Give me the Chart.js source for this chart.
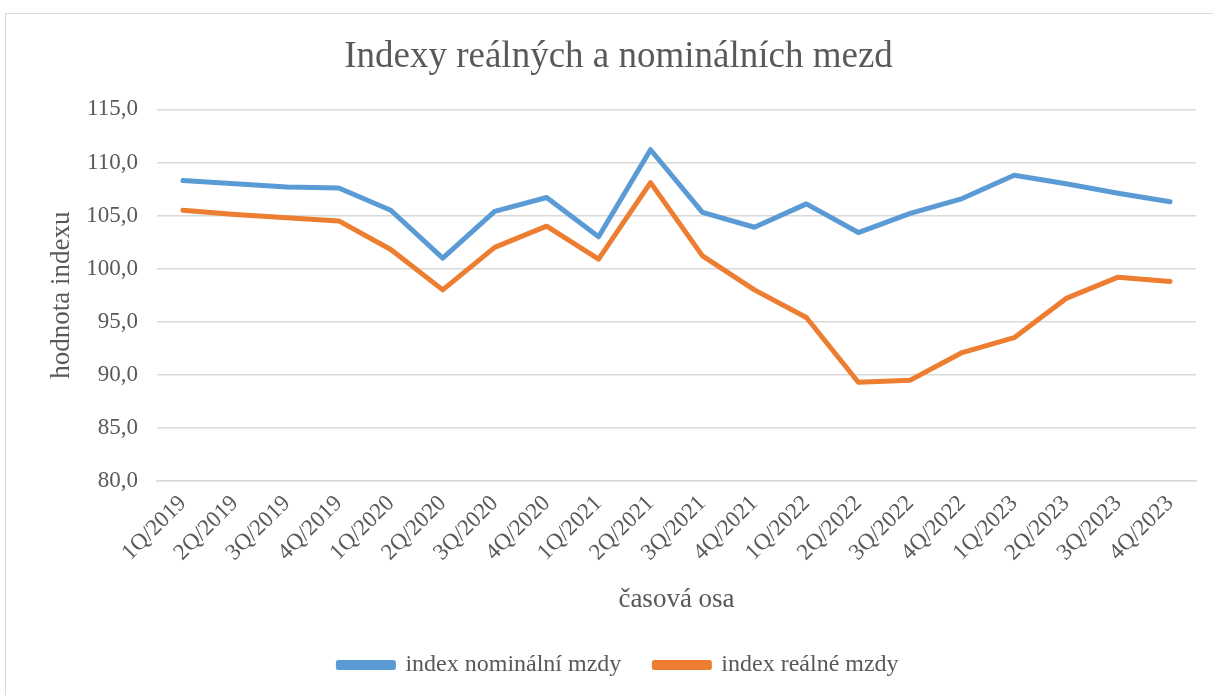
<!DOCTYPE html>
<html lang="cs">
<head>
<meta charset="utf-8">
<title>Indexy reálných a nominálních mezd</title>
<script src="https://cdn.jsdelivr.net/npm/chart.js@4.4.1/dist/chart.umd.min.js"></script>
<style>
  html, body { margin: 0; padding: 0; background: #fff; overflow: hidden; }
  .frame {
    position: absolute; left: 5px; top: 13px;
    width: 1400px; height: 1000px;
    border: 1px solid #d9d9d9;
  }
  #wrap { position: absolute; left: 0; top: 0; width: 1213px; height: 695px; }
</style>
</head>
<body>
<div class="frame"></div>
<div id="wrap"><canvas id="mzdy" width="1213" height="695"></canvas></div>
<script>
const quarters = [
  '1Q/2019', '2Q/2019', '3Q/2019', '4Q/2019',
  '1Q/2020', '2Q/2020', '3Q/2020', '4Q/2020',
  '1Q/2021', '2Q/2021', '3Q/2021', '4Q/2021',
  '1Q/2022', '2Q/2022', '3Q/2022', '4Q/2022',
  '1Q/2023', '2Q/2023', '3Q/2023', '4Q/2023'
];
const nominalIndex = [
  108.3, 108.0, 107.7, 107.6,
  105.5, 101.0, 105.4, 106.7,
  103.0, 111.2, 105.3, 103.9,
  106.1, 103.4, 105.2, 106.6,
  108.8, 108.0, 107.1, 106.3
];
const realIndex = [
  105.5, 105.1, 104.8, 104.5,
  101.8, 98.0, 102.0, 104.0,
  100.9, 108.1, 101.2, 98.0,
  95.4, 89.3, 89.5, 92.1,
  93.5, 97.2, 99.2, 98.8
];
const yTicks = [80, 85, 90, 95, 100, 105, 110, 115];

const grey = '#595959';
const gridGrey = '#d9d9d9';

Chart.defaults.font.family = "'Liberation Serif', 'Times New Roman', serif";
Chart.defaults.color = grey;

new Chart(document.getElementById('mzdy'), {
  type: 'line',
  data: {
    labels: quarters,
    datasets: [
      {
        label: 'index nominální mzdy',
        data: nominalIndex,
        borderColor: '#5b9bd5',
        backgroundColor: '#5b9bd5',
        borderWidth: 5,
        pointRadius: 0,
        tension: 0,
        borderCapStyle: 'round',
        borderJoinStyle: 'round'
      },
      {
        label: 'index reálné mzdy',
        data: realIndex,
        borderColor: '#ed7d31',
        backgroundColor: '#ed7d31',
        borderWidth: 5,
        pointRadius: 0,
        tension: 0,
        borderCapStyle: 'round',
        borderJoinStyle: 'round'
      }
    ]
  },
  options: {
    responsive: false,
    animation: false,
    layout: { padding: { left: 41, right: 17, top: 0, bottom: 8 } },
    plugins: {
      title: {
        display: true,
        text: 'Indexy reálných a nominálních mezd',
        font: { size: 37, weight: 'normal' },
        color: grey,
        padding: { top: 35, bottom: 109 - 35 - 44 }
      },
      legend: {
        position: 'bottom',
        labels: {
          boxWidth: 55,
          boxHeight: 5,
          padding: 33,
          font: { size: 24 },
          color: grey
        }
      },
      tooltip: { enabled: false }
    },
    scales: {
      x: {
        offset: true,
        grid: { display: false, drawTicks: false },
        border: { color: gridGrey, width: 1.5 },
        ticks: {
          autoSkip: false,
          minRotation: 45,
          maxRotation: 45,
          padding: 9,
          font: { size: 23 },
          color: grey
        },
        title: {
          display: true,
          text: 'časová osa',
          font: { size: 27 },
          color: grey,
          padding: { top: 0, bottom: 4 }
        },
        afterFit: function (scale) { scale.height = 139; }
      },
      y: {
        min: yTicks[0],
        max: yTicks[yTicks.length - 1],
        grid: { color: gridGrey, lineWidth: 1.5, drawTicks: false },
        border: { display: false },
        ticks: {
          stepSize: 5,
          padding: 19,
          font: { size: 23 },
          color: grey,
          callback: function (value) {
            return value.toFixed(1).replace('.', ',');
          }
        },
        title: {
          display: true,
          text: 'hodnota indexu',
          font: { size: 27 },
          color: grey,
          padding: { top: 5, bottom: 0 }
        },
        afterFit: function (scale) { scale.width = 116; }
      }
    }
  }
});
</script>
</body>
</html>
